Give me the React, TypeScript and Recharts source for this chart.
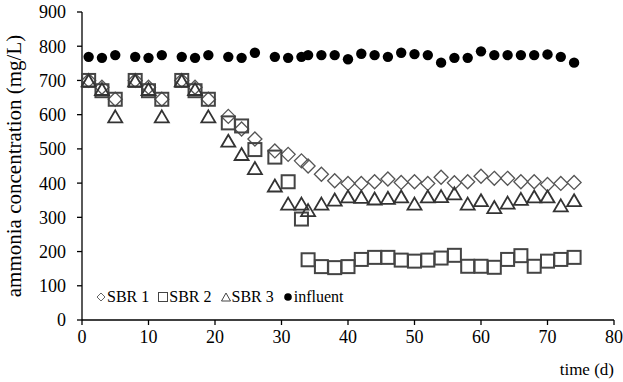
import { ScatterChart, Scatter, XAxis, YAxis, Legend } from "recharts";

// sampling days (d)
const days = [
  1, 3, 5, 8, 10, 12, 15, 17, 19, 22, 24, 26, 29, 31, 33, 34, 36, 38, 40, 42,
  44, 46, 48, 50, 52, 54, 56, 58, 60, 62, 64, 66, 68, 70, 72, 74,
];

// ammonia concentration (mg/L)
const sbr1 = [
  700, 680, 645, 700, 680, 645, 700, 680, 645, 595, 558, 529, 494, 484, 465,
  450, 426, 407, 399, 399, 404, 412, 402, 404, 399, 417, 401, 404, 420, 414,
  414, 404, 404, 396, 399, 402,
];
const sbr2 = [
  700, 670, 645, 700, 670, 645, 700, 670, 645, 576, 567, 498, 476, 404, 295,
  176, 156, 153, 156, 177, 183, 183, 175, 172, 175, 181, 189, 157, 157, 154,
  177, 188, 157, 172, 177, 183,
];
const sbr3 = [
  700, 675, 595, 700, 675, 595, 700, 675, 595, 524, 485, 444, 393, 340, 340,
  321, 340, 352, 361, 360, 355, 357, 361, 340, 361, 362, 370, 340, 350, 330,
  343, 354, 361, 361, 335, 350,
];
const influent = [
  769, 766, 774, 769, 766, 774, 769, 766, 774, 769, 766, 781, 769, 766, 769,
  774, 774, 774, 762, 778, 774, 769, 781, 777, 774, 752, 766, 766, 785, 774,
  774, 774, 774, 776, 769, 752,
];

const xTicks = [0, 10, 20, 30, 40, 50, 60, 70, 80];
const yTicks = [0, 100, 200, 300, 400, 500, 600, 700, 800, 900];

const toPoints = (vals: number[]) => days.map((d, i) => ({ day: d, value: vals[i] }));

const font = '"Liberation Serif", "Times New Roman", serif';

const DiamondShape = (props: any) => {
  const { cx, cy } = props;
  const r = 7;
  return (
    <polygon
      points={`${cx},${cy - r} ${cx + r},${cy} ${cx},${cy + r} ${cx - r},${cy}`}
      fill="none"
      stroke="#555"
      strokeWidth={1.3}
    />
  );
};

const SquareShape = (props: any) => {
  const { cx, cy } = props;
  const r = 6.5;
  return <rect x={cx - r} y={cy - r} width={2 * r} height={2 * r} fill="none" stroke="#444" strokeWidth={2} />;
};

const TriangleShape = (props: any) => {
  const { cx, cy } = props;
  const w = 7;
  const h = 6;
  return (
    <polygon
      points={`${cx},${cy - h} ${cx + w},${cy + h} ${cx - w},${cy + h}`}
      fill="none"
      stroke="#333"
      strokeWidth={1.8}
    />
  );
};

const CircleShape = (props: any) => {
  const { cx, cy } = props;
  return <circle cx={cx} cy={cy} r={5.2} fill="#000" />;
};

const legendItems = [
  { label: "SBR 1", icon: <polygon points="5,1 9,5 5,9 1,5" fill="none" stroke="#666" strokeWidth={1} /> },
  { label: "SBR 2", icon: <rect x={0.5} y={0.5} width={9} height={9} fill="none" stroke="#444" strokeWidth={1} /> },
  { label: "SBR 3", icon: <polygon points="5,1 9.5,9 0.5,9" fill="none" stroke="#444" strokeWidth={1} /> },
  { label: "influent", icon: <circle cx={5} cy={5} r={3.8} fill="#000" /> },
];

const renderLegend = () => (
  <div style={{ display: "flex", fontFamily: font, fontSize: 16, color: "#000", lineHeight: "18px" }}>
    {legendItems.map((it) => (
      <span key={it.label} style={{ display: "flex", alignItems: "center", marginRight: 9 }}>
        <svg width={10} height={10} style={{ marginRight: 1 }}>
          {it.icon}
        </svg>
        {it.label}
      </span>
    ))}
  </div>
);

export default function App() {
  return (
    <div style={{ position: "absolute", left: 0, top: 0, width: 623, height: 382, background: "#fff" }}>
      <ScatterChart width={623} height={382} margin={{ top: 12, right: 9, bottom: 0, left: 0 }}>
        <XAxis
          type="number"
          dataKey="day"
          domain={[0, 80]}
          ticks={xTicks}
          height={62}
          tickSize={5}
          tickMargin={5}
          stroke="#000"
          strokeWidth={1.3}
          tick={{ fill: "#000", fontSize: 18, fontFamily: font }}
          label={{ value: "time (d)", position: "insideBottomRight", offset: 0, dy: -7, fill: "#000", fontSize: 17, fontFamily: font }}
        />
        <YAxis
          type="number"
          dataKey="value"
          domain={[0, 900]}
          ticks={yTicks}
          width={82}
          tickSize={5}
          tickMargin={11}
          stroke="#000"
          strokeWidth={1.3}
          tick={{ fill: "#000", fontSize: 18, fontFamily: font }}
          label={{
            value: "ammonia concentration (mg/L)",
            angle: -90,
            position: "insideLeft",
            offset: 14,
            style: { textAnchor: "middle" },
            fill: "#000",
            fontSize: 21,
            fontFamily: font,
          }}
        />
        <Legend
          content={renderLegend}
          layout="horizontal"
          verticalAlign="middle"
          wrapperStyle={{ left: 96, top: 288, width: 300 }}
        />
        <Scatter name="SBR 1" data={toPoints(sbr1)} shape={DiamondShape} isAnimationActive={false} />
        <Scatter name="SBR 2" data={toPoints(sbr2)} shape={SquareShape} isAnimationActive={false} />
        <Scatter name="SBR 3" data={toPoints(sbr3)} shape={TriangleShape} isAnimationActive={false} />
        <Scatter name="influent" data={toPoints(influent)} shape={CircleShape} isAnimationActive={false} />
      </ScatterChart>
    </div>
  );
}
